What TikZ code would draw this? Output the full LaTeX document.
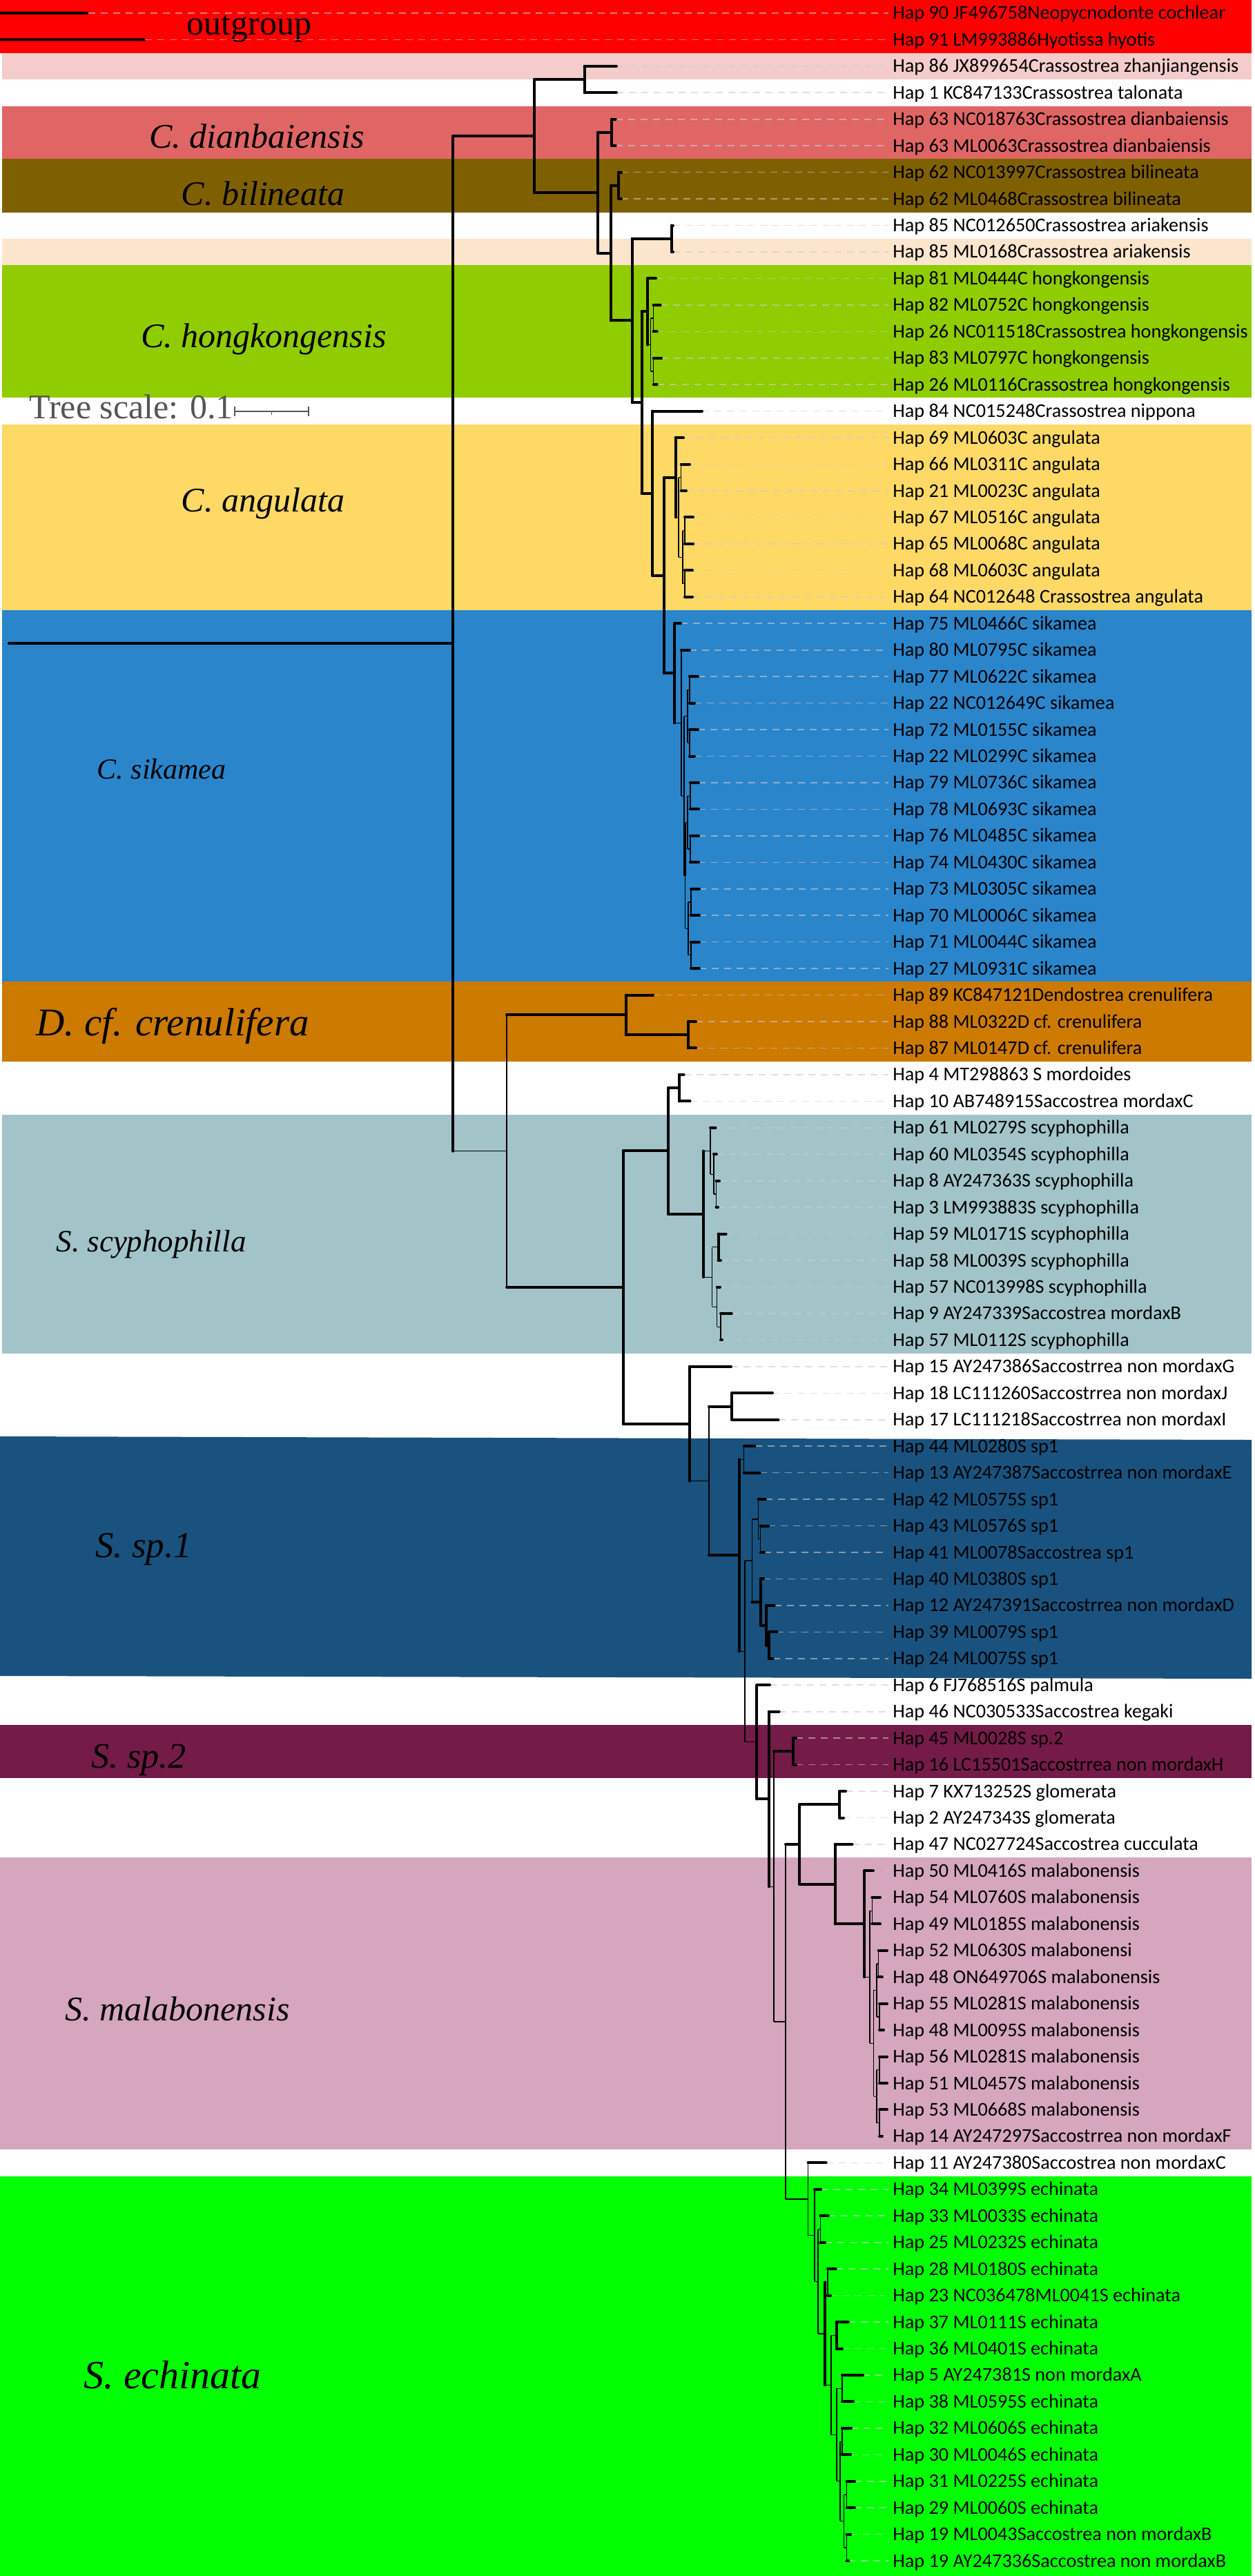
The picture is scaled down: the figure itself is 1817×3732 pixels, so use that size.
\documentclass[tikz,border=0pt]{standalone}
\usepackage{fontspec}
\setmainfont{Liberation Serif}
\newfontfamily\leaffont{Carlito}
\usetikzlibrary{calc}
\definecolor{cOut}{HTML}{FF0000}
\definecolor{cZh}{HTML}{F4CCCC}
\definecolor{cDi}{HTML}{E06666}
\definecolor{cBi}{HTML}{7F6000}
\definecolor{cAr}{HTML}{FCE5CD}
\definecolor{cHk}{HTML}{8FCC00}
\definecolor{cAn}{HTML}{FFD966}
\definecolor{cSi}{HTML}{2A85CB}
\definecolor{cCr}{HTML}{CC7A00}
\definecolor{cSc}{HTML}{A2C4C9}
\definecolor{cSa}{HTML}{19527E}
\definecolor{cSb}{HTML}{741B47}
\definecolor{cMa}{HTML}{D5A6BD}
\definecolor{cEc}{HTML}{00FF00}
\definecolor{cScale}{HTML}{555555}
\tikzset{
  thk/.style={line width=2pt, line cap=round},
  thn/.style={line width=0.6pt},
  thm/.style={line width=1pt},
  lead/.style={draw=gray!40, opacity=0.6, line width=0.8pt, dash pattern=on 5pt off 4pt},
  leaflbl/.style={anchor=base west, inner sep=0pt, font=\leaffont\fontsize{14.1}{16}\selectfont},
  cladelbl/.style={anchor=base, inner sep=0pt, font=\fontsize{25}{30}\selectfont\itshape},
}
\newcommand\leaf[3]{%
  \coordinate (L#1) at (#2,{18.9+38.45*#1});
  \coordinate (E#1) at (1287,{18.9+38.45*#1});
  \draw[lead] (L#1) -- (E#1);
  \node[leaflbl] (T#1) at (1293,{27.9+38.45*#1}) {#3};
}
\newcommand\inode[4]{\path let \p1=($(#3)!0.5!(#4)$), \p2=(#2,0) in coordinate (#1) at (\x2,\y1);}
\newcommand\br[4]{\draw[#1] (#3) -- (#3 |- #4); \draw[#2] (#3 |- #4) -- (#4);}
\begin{document}
\begin{tikzpicture}[x=0.5pt,y=-0.5pt]
\path[use as bounding box, fill=white] (0,0) rectangle (1817,3732);
% bands
\fill[cOut] (0,0) rectangle (1813,76.6);
\fill[cZh] (3,76.6) rectangle (1813,115.0);
\fill[cDi] (3,153.5) rectangle (1813,230.4);
\fill[cBi] (3,230.4) rectangle (1813,308);
\fill[cAr] (3,346) rectangle (1813,384.2);
\fill[cHk] (3,384.2) rectangle (1813,576.4);
\fill[cAn] (3,615) rectangle (1813,884);
\fill[cSi] (3,884) rectangle (1813,1422.3);
\fill[cCr] (3,1422.3) rectangle (1813,1537.7);
\fill[cSc] (3,1614.6) rectangle (1813,1960.6);
\fill[cSa] (0,2081) -- (1813,2086) -- (1813,2432) -- (0,2428) -- cycle;
\fill[cSb] (0,2499) rectangle (1813,2575.8);
\fill[cMa] (0,2691.2) rectangle (1813,3114.1);
\fill[cEc] (0,3152.6) rectangle (1813,3732);
% clade labels
\node[anchor=base, inner sep=0pt, font=\fontsize{25}{30}\selectfont] (Gout) at (361,50) {outgroup};
\node[cladelbl] (Gdi) at (372,214) {C. dianbaiensis};
\node[cladelbl] (Gbi) at (381,297) {C. bilineata};
\node[cladelbl] (Ghk) at (382,503) {C. hongkongensis};
\node[cladelbl] (Gan) at (381,741) {C. angulata};
\node[cladelbl, font=\fontsize{21}{26}\selectfont\itshape] (Gsi) at (234,1128) {C. sikamea};
\node[cladelbl, font=\fontsize{28.5}{34}\selectfont\itshape] (Gcr) at (250,1500) {D. cf. crenulifera};
\node[cladelbl, font=\fontsize{22.5}{27}\selectfont\itshape] (Gsc) at (219,1813) {S. scyphophilla};
\node[cladelbl, font=\fontsize{26.5}{32}\selectfont\itshape] (Gsa) at (208,2256) {S. sp.1};
\node[cladelbl, font=\fontsize{26}{31}\selectfont\itshape] (Gsb) at (201,2561) {S. sp.2};
\node[cladelbl] (Gma) at (257,2927) {S. malabonensis};
\node[cladelbl, font=\fontsize{29}{35}\selectfont\itshape] (Gec) at (250,3460) {S. echinata};
% tree scale
\node[anchor=base west, inner sep=0pt, text=cScale, font=\fontsize{25}{30}\selectfont] (Gts) at (42,606) {Tree scale: 0.1};
\coordinate (sb1) at (340,596); \coordinate (sb2) at (447,596); \coordinate (sbm) at (393.5,596);
\draw[cScale, line width=1.2pt] (sb1) -- (sb2);
\draw[cScale, line width=1.2pt] ($(sb1)+(0,-7)$) -- ($(sb1)+(0,7)$);
\draw[cScale, line width=1.2pt] ($(sb2)+(0,-7)$) -- ($(sb2)+(0,7)$);
\draw[cScale, line width=0.8pt] (sbm) -- ($(sbm)+(0,5)$);
% leaves
\leaf{0}{128}{Hap 90 JF496758Neopycnodonte cochlear}
\leaf{1}{210}{Hap 91 LM993886Hyotissa hyotis}
\leaf{2}{893}{Hap 86 JX899654Crassostrea zhanjiangensis}
\leaf{3}{893}{Hap 1 KC847133Crassostrea talonata}
\leaf{4}{891.7}{Hap 63 NC018763Crassostrea dianbaiensis}
\leaf{5}{891.7}{Hap 63 ML0063Crassostrea dianbaiensis}
\leaf{6}{900}{Hap 62 NC013997Crassostrea bilineata}
\leaf{7}{900}{Hap 62 ML0468Crassostrea bilineata}
\leaf{8}{975}{Hap 85 NC012650Crassostrea ariakensis}
\leaf{9}{975}{Hap 85 ML0168Crassostrea ariakensis}
\leaf{10}{950}{Hap 81 ML0444C hongkongensis}
\leaf{11}{956.7}{Hap 82 ML0752C hongkongensis}
\leaf{12}{951.7}{Hap 26 NC011518Crassostrea hongkongensis}
\leaf{13}{958}{Hap 83 ML0797C hongkongensis}
\leaf{14}{951.7}{Hap 26 ML0116Crassostrea hongkongensis}
\leaf{15}{1017}{Hap 84 NC015248Crassostrea nippona}
\leaf{16}{990}{Hap 69 ML0603C angulata}
\leaf{17}{999}{Hap 66 ML0311C angulata}
\leaf{18}{994}{Hap 21 ML0023C angulata}
\leaf{19}{1004}{Hap 67 ML0516C angulata}
\leaf{20}{1004}{Hap 65 ML0068C angulata}
\leaf{21}{1003}{Hap 68 ML0603C angulata}
\leaf{22}{1003}{Hap 64 NC012648 Crassostrea angulata}
\leaf{23}{986}{Hap 75 ML0466C sikamea}
\leaf{24}{999}{Hap 80 ML0795C sikamea}
\leaf{25}{1011}{Hap 77 ML0622C sikamea}
\leaf{26}{1006}{Hap 22 NC012649C sikamea}
\leaf{27}{1011}{Hap 72 ML0155C sikamea}
\leaf{28}{1006}{Hap 22 ML0299C sikamea}
\leaf{29}{1012}{Hap 79 ML0736C sikamea}
\leaf{30}{1012}{Hap 78 ML0693C sikamea}
\leaf{31}{1012}{Hap 76 ML0485C sikamea}
\leaf{32}{1012}{Hap 74 ML0430C sikamea}
\leaf{33}{1013}{Hap 73 ML0305C sikamea}
\leaf{34}{1013}{Hap 70 ML0006C sikamea}
\leaf{35}{1013}{Hap 71 ML0044C sikamea}
\leaf{36}{1013}{Hap 27 ML0931C sikamea}
\leaf{37}{946}{Hap 89 KC847121Dendostrea crenulifera}
\leaf{38}{1008}{Hap 88 ML0322D cf. crenulifera}
\leaf{39}{1008}{Hap 87 ML0147D cf. crenulifera}
\leaf{40}{990.6}{Hap 4 MT298863 S mordoides}
\leaf{41}{999.5}{Hap 10 AB748915Saccostrea mordaxC}
\leaf{42}{1036.6}{Hap 61 ML0279S scyphophilla}
\leaf{43}{1038}{Hap 60 ML0354S scyphophilla}
\leaf{44}{1042}{Hap 8 AY247363S scyphophilla}
\leaf{45}{1040}{Hap 3 LM993883S scyphophilla}
\leaf{46}{1051.7}{Hap 59 ML0171S scyphophilla}
\leaf{47}{1044}{Hap 58 ML0039S scyphophilla}
\leaf{48}{1043}{Hap 57 NC013998S scyphophilla}
\leaf{49}{1059.8}{Hap 9 AY247339Saccostrea mordaxB}
\leaf{50}{1046}{Hap 57 ML0112S scyphophilla}
\leaf{51}{1059}{Hap 15 AY247386Saccostrrea non mordaxG}
\leaf{52}{1119}{Hap 18 LC111260Saccostrrea non mordaxJ}
\leaf{53}{1127.5}{Hap 17 LC111218Saccostrrea non mordaxI}
\leaf{54}{1093.5}{Hap 44 ML0280S sp1}
\leaf{55}{1100.6}{Hap 13 AY247387Saccostrrea non mordaxE}
\leaf{56}{1109}{Hap 42 ML0575S sp1}
\leaf{57}{1113.4}{Hap 43 ML0576S sp1}
\leaf{58}{1107}{Hap 41 ML0078Saccostrea sp1}
\leaf{59}{1106}{Hap 40 ML0380S sp1}
\leaf{60}{1121.7}{Hap 12 AY247391Saccostrrea non mordaxD}
\leaf{61}{1125.4}{Hap 39 ML0079S sp1}
\leaf{62}{1119.6}{Hap 24 ML0075S sp1}
\leaf{63}{1115}{Hap 6 FJ768516S palmula}
\leaf{64}{1128.7}{Hap 46 NC030533Saccostrea kegaki}
\leaf{65}{1153}{Hap 45 ML0028S sp.2}
\leaf{66}{1153}{Hap 16 LC15501Saccostrrea non mordaxH}
\leaf{67}{1225}{Hap 7 KX713252S glomerata}
\leaf{68}{1222}{Hap 2 AY247343S glomerata}
\leaf{69}{1234.5}{Hap 47 NC027724Saccostrea cucculata}
\leaf{70}{1265}{Hap 50 ML0416S malabonensis}
\leaf{71}{1275}{Hap 54 ML0760S malabonensis}
\leaf{72}{1275}{Hap 49 ML0185S malabonensis}
\leaf{73}{1285}{Hap 52 ML0630S malabonensi}
\leaf{74}{1278}{Hap 48 ON649706S malabonensis}
\leaf{75}{1285}{Hap 55 ML0281S malabonensis}
\leaf{76}{1280}{Hap 48 ML0095S malabonensis}
\leaf{77}{1285}{Hap 56 ML0281S malabonensis}
\leaf{78}{1285}{Hap 51 ML0457S malabonensis}
\leaf{79}{1285}{Hap 53 ML0668S malabonensis}
\leaf{80}{1278}{Hap 14 AY247297Saccostrrea non mordaxF}
\leaf{81}{1196.7}{Hap 11 AY247380Saccostrea non mordaxC}
\leaf{82}{1189}{Hap 34 ML0399S echinata}
\leaf{83}{1200}{Hap 33 ML0033S echinata}
\leaf{84}{1195}{Hap 25 ML0232S echinata}
\leaf{85}{1210.7}{Hap 28 ML0180S echinata}
\leaf{86}{1203}{Hap 23 NC036478ML0041S echinata}
\leaf{87}{1229}{Hap 37 ML0111S echinata}
\leaf{88}{1220}{Hap 36 ML0401S echinata}
\leaf{89}{1250}{Hap 5 AY247381S non mordaxA}
\leaf{90}{1236}{Hap 38 ML0595S echinata}
\leaf{91}{1233}{Hap 32 ML0606S echinata}
\leaf{92}{1232}{Hap 30 ML0046S echinata}
\leaf{93}{1238}{Hap 31 ML0225S echinata}
\leaf{94}{1238}{Hap 29 ML0060S echinata}
\leaf{95}{1232}{Hap 19 ML0043Saccostrea non mordaxB}
\leaf{96}{1229}{Hap 19 AY247336Saccostrea non mordaxB}
% outgroup branches
\coordinate (og0) at (0,18.9); \coordinate (og1) at (0,57.35);
\draw[line width=2pt] (og0) -- (L0);
\draw[line width=2pt] (og1) -- (L1);
% Crassostrea
\inode{c1}{846.7}{L2}{L3}\br{thk}{thk}{c1}{L2}\br{thk}{thk}{c1}{L3}
\inode{c2}{886}{L4}{L5}\br{thk}{thk}{c2}{L4}\br{thk}{thk}{c2}{L5}
\inode{c3}{896}{L6}{L7}\br{thk}{thk}{c3}{L6}\br{thk}{thk}{c3}{L7}
\inode{c4}{973}{L8}{L9}\br{thk}{thk}{c4}{L8}\br{thk}{thk}{c4}{L9}
\inode{ch1}{946.7}{L11}{L12}\br{thn}{thk}{ch1}{L11}\br{thn}{thk}{ch1}{L12}
\inode{ch2}{946.7}{L13}{L14}\br{thn}{thk}{ch2}{L13}\br{thn}{thk}{ch2}{L14}
\inode{ch3}{942.7}{ch1}{ch2}\br{thn}{thn}{ch3}{ch1}\br{thn}{thn}{ch3}{ch2}
\inode{ch4}{938}{L10}{ch3}\br{thk}{thk}{ch4}{L10}\br{thk}{thn}{ch4}{ch3}
\inode{ca1}{986.7}{L17}{L18}\br{thn}{thk}{ca1}{L17}\br{thn}{thk}{ca1}{L18}
\inode{ca2}{992}{L19}{L20}\br{thn}{thk}{ca2}{L19}\br{thn}{thk}{ca2}{L20}
\inode{ca3}{992}{L21}{L22}\br{thn}{thk}{ca3}{L21}\br{thn}{thk}{ca3}{L22}
\inode{ca4}{989}{ca2}{ca3}\br{thn}{thn}{ca4}{ca2}\br{thn}{thn}{ca4}{ca3}
\inode{ca5}{983}{ca1}{ca4}\br{thn}{thn}{ca5}{ca1}\br{thn}{thn}{ca5}{ca4}
\inode{ca6}{978.7}{L16}{ca5}\br{thk}{thk}{ca6}{L16}\br{thk}{thn}{ca6}{ca5}
\inode{cs1}{999}{L25}{L26}\br{thm}{thk}{cs1}{L25}\br{thm}{thk}{cs1}{L26}
\inode{cs2}{999}{L27}{L28}\br{thm}{thk}{cs2}{L27}\br{thm}{thk}{cs2}{L28}
\inode{cs3}{1000}{L29}{L30}\br{thm}{thk}{cs3}{L29}\br{thm}{thk}{cs3}{L30}
\inode{cs4}{1000}{L31}{L32}\br{thm}{thk}{cs4}{L31}\br{thm}{thk}{cs4}{L32}
\inode{cs5}{1001}{L33}{L34}\br{thm}{thk}{cs5}{L33}\br{thm}{thk}{cs5}{L34}
\inode{cs6}{1001}{L35}{L36}\br{thm}{thk}{cs6}{L35}\br{thm}{thk}{cs6}{L36}
\inode{csQa}{996}{cs1}{cs2}\br{thn}{thn}{csQa}{cs1}\br{thn}{thn}{csQa}{cs2}
\inode{csQb}{996}{cs3}{cs4}\br{thn}{thn}{csQb}{cs3}\br{thn}{thn}{csQb}{cs4}
\inode{csQc}{997}{cs5}{cs6}\br{thn}{thn}{csQc}{cs5}\br{thn}{thn}{csQc}{cs6}
\inode{csR}{992.5}{csQb}{csQc}\br{thm}{thn}{csR}{csQb}\br{thn}{thn}{csR}{csQc}
\inode{csS}{991}{csQa}{csR}\br{thn}{thn}{csS}{csQa}\br{thn}{thn}{csS}{csR}
\inode{csT}{987}{L24}{csS}\br{thn}{thk}{csT}{L24}\br{thn}{thn}{csT}{csS}
\inode{csU}{977}{L23}{csT}\br{thk}{thk}{csU}{L23}\br{thk}{thn}{csU}{csT}
\inode{cas}{962}{ca6}{csU}\br{thk}{thk}{cas}{ca6}\br{thk}{thk}{cas}{csU}
\inode{nF}{945}{L15}{cas}\br{thk}{thk}{nF}{L15}\br{thk}{thk}{nF}{cas}
\inode{nA}{929.5}{ch4}{nF}\br{thk}{thk}{nA}{ch4}\br{thk}{thk}{nA}{nF}
\inode{nB}{915.7}{c4}{nA}\br{thk}{thk}{nB}{c4}\br{thk}{thk}{nB}{nA}
\inode{nC}{885}{c3}{nB}\br{thk}{thk}{nC}{c3}\br{thk}{thk}{nC}{nB}
\inode{nD}{866}{c2}{nC}\br{thk}{thk}{nD}{c2}\br{thk}{thk}{nD}{nC}
\inode{nE}{774}{c1}{nD}\br{thk}{thk}{nE}{c1}\br{thk}{thk}{nE}{nD}
% Dendostrea + Saccostrea
\inode{d1}{997}{L38}{L39}\br{thk}{thk}{d1}{L38}\br{thk}{thk}{d1}{L39}
\inode{d2}{907}{L37}{d1}\br{thk}{thk}{d2}{L37}\br{thk}{thk}{d2}{d1}
\inode{s1}{984}{L40}{L41}\br{thk}{thk}{s1}{L40}\br{thk}{thk}{s1}{L41}
\inode{sc1}{1037.5}{L44}{L45}\br{thn}{thk}{sc1}{L44}\br{thn}{thk}{sc1}{L45}
\inode{sc2}{1034}{L43}{sc1}\br{thn}{thk}{sc2}{L43}\br{thn}{thn}{sc2}{sc1}
\inode{sc3}{1029}{L42}{sc2}\br{thn}{thk}{sc3}{L42}\br{thn}{thn}{sc3}{sc2}
\inode{sc4}{1040.6}{L46}{L47}\br{thk}{thk}{sc4}{L46}\br{thk}{thk}{sc4}{L47}
\inode{sc5}{1044}{L49}{L50}\br{thn}{thk}{sc5}{L49}\br{thn}{thk}{sc5}{L50}
\inode{sc6}{1038.8}{L48}{sc5}\br{thn}{thk}{sc6}{L48}\br{thn}{thn}{sc6}{sc5}
\inode{sc7}{1031.7}{sc4}{sc6}\br{thn}{thn}{sc7}{sc4}\br{thn}{thn}{sc7}{sc6}
\inode{sc8}{1018.7}{sc3}{sc7}\br{thk}{thn}{sc8}{sc3}\br{thk}{thn}{sc8}{sc7}
\inode{s2}{968}{s1}{sc8}\br{thk}{thk}{s2}{s1}\br{thk}{thk}{s2}{sc8}
\inode{m1}{1060}{L52}{L53}\br{thk}{thk}{m1}{L52}\br{thk}{thk}{m1}{L53}
\inode{p1}{1077.8}{L54}{L55}\br{thn}{thk}{p1}{L54}\br{thn}{thk}{p1}{L55}
\inode{p2}{1101.8}{L57}{L58}\br{thn}{thk}{p2}{L57}\br{thn}{thk}{p2}{L58}
\inode{p3}{1098.5}{L56}{p2}\br{thn}{thk}{p3}{L56}\br{thn}{thn}{p3}{p2}
\inode{p4}{1114}{L61}{L62}\br{thk}{thk}{p4}{L61}\br{thk}{thk}{p4}{L62}
\inode{p5}{1110}{L60}{p4}\br{thk}{thk}{p5}{L60}\br{thk}{thk}{p5}{p4}
\inode{p6}{1101.8}{L59}{p5}\br{thk}{thk}{p6}{L59}\br{thk}{thk}{p6}{p5}
\inode{p7}{1089.4}{p3}{p6}\br{thn}{thn}{p7}{p3}\br{thn}{thk}{p7}{p6}
\inode{q1}{1149}{L65}{L66}\br{thk}{thk}{q1}{L65}\br{thk}{thk}{q1}{L66}
\inode{g1}{1216}{L67}{L68}\br{thk}{thk}{g1}{L67}\br{thk}{thk}{g1}{L68}
\inode{mb1}{1263.3}{L71}{L72}\br{thn}{thk}{mb1}{L71}\br{thn}{thk}{mb1}{L72}
\inode{mb2}{1272.7}{L73}{L74}\br{thn}{thk}{mb2}{L73}\br{thn}{thk}{mb2}{L74}
\inode{mb3}{1274}{L75}{L76}\br{thn}{thk}{mb3}{L75}\br{thn}{thk}{mb3}{L76}
\inode{mb4}{1270}{mb2}{mb3}\br{thn}{thn}{mb4}{mb2}\br{thn}{thn}{mb4}{mb3}
\inode{mb5}{1274}{L77}{L78}\br{thn}{thk}{mb5}{L77}\br{thn}{thk}{mb5}{L78}
\inode{mb6}{1274}{L79}{L80}\br{thn}{thk}{mb6}{L79}\br{thn}{thk}{mb6}{L80}
\inode{mb7}{1270}{mb5}{mb6}\br{thn}{thn}{mb7}{mb5}\br{thn}{thn}{mb7}{mb6}
\inode{mb8}{1265.7}{mb4}{mb7}\br{thn}{thn}{mb8}{mb4}\br{thn}{thn}{mb8}{mb7}
\inode{mb9}{1260}{mb1}{mb8}\br{thn}{thn}{mb9}{mb1}\br{thn}{thn}{mb9}{mb8}
\inode{mb10}{1252}{L70}{mb9}\br{thk}{thk}{mb10}{L70}\br{thk}{thn}{mb10}{mb9}
\inode{g2}{1209.6}{L69}{mb10}\br{thk}{thk}{g2}{L69}\br{thk}{thk}{g2}{mb10}
\inode{g3}{1158}{g1}{g2}\br{thk}{thk}{g3}{g1}\br{thk}{thk}{g3}{g2}
\inode{e1}{1188.3}{L83}{L84}\br{thn}{thk}{e1}{L83}\br{thn}{thk}{e1}{L84}
\inode{e2}{1199}{L85}{L86}\br{thn}{thk}{e2}{L85}\br{thn}{thk}{e2}{L86}
\inode{e3}{1212}{L87}{L88}\br{thk}{thk}{e3}{L87}\br{thk}{thk}{e3}{L88}
\inode{e4}{1220}{L89}{L90}\br{thn}{thk}{e4}{L89}\br{thn}{thk}{e4}{L90}
\inode{e5}{1220}{L91}{L92}\br{thn}{thk}{e5}{L91}\br{thn}{thk}{e5}{L92}
\inode{e6}{1226.7}{L93}{L94}\br{thn}{thk}{e6}{L93}\br{thn}{thk}{e6}{L94}
\inode{e7}{1226.7}{L95}{L96}\br{thn}{thk}{e7}{L95}\br{thn}{thk}{e7}{L96}
\inode{e8}{1222.7}{e6}{e7}\br{thn}{thn}{e8}{e6}\br{thn}{thn}{e8}{e7}
\inode{e9}{1217}{e5}{e8}\br{thn}{thn}{e9}{e5}\br{thn}{thn}{e9}{e8}
\inode{e10}{1212}{e4}{e9}\br{thn}{thn}{e10}{e4}\br{thn}{thn}{e10}{e9}
\inode{e11}{1204}{e3}{e10}\br{thn}{thn}{e11}{e3}\br{thn}{thn}{e11}{e10}
\inode{e12}{1195}{e2}{e11}\br{thk}{thn}{e12}{e2}\br{thk}{thn}{e12}{e11}
\inode{e13}{1185}{e1}{e12}\br{thn}{thn}{e13}{e1}\br{thn}{thn}{e13}{e12}
\inode{e14}{1180}{L82}{e13}\br{thn}{thk}{e14}{L82}\br{thn}{thn}{e14}{e13}
\inode{e15}{1170.7}{L81}{e14}\br{thn}{thk}{e15}{L81}\br{thn}{thn}{e15}{e14}
\inode{g4}{1138}{g3}{e15}\br{thn}{thk}{g4}{g3}\br{thn}{thn}{g4}{e15}
\inode{q2}{1121}{q1}{g4}\br{thn}{thk}{q2}{q1}\br{thn}{thn}{q2}{g4}
\inode{q3}{1114}{L64}{q2}\br{thk}{thk}{q3}{L64}\br{thk}{thn}{q3}{q2}
\inode{q4}{1096.4}{L63}{q3}\br{thk}{thk}{q4}{L63}\br{thk}{thk}{q4}{q3}
\inode{p8}{1079}{p7}{q4}\br{thn}{thn}{p8}{p7}\br{thn}{thn}{p8}{q4}
\inode{p9}{1070.7}{p1}{p8}\br{thk}{thn}{p9}{p1}\br{thk}{thn}{p9}{p8}
\inode{m2}{1027}{m1}{p9}\br{thn}{thk}{m2}{m1}\br{thn}{thk}{m2}{p9}
\inode{m3}{999}{L51}{m2}\br{thk}{thk}{m3}{L51}\br{thk}{thn}{m3}{m2}
\inode{s3}{902.7}{s2}{m3}\br{thk}{thk}{s3}{s2}\br{thk}{thk}{s3}{m3}
\inode{ds}{734}{d2}{s3}\br{thn}{thk}{ds}{d2}\br{thn}{thk}{ds}{s3}
\inode{root}{656}{nE}{ds}\br{thk}{thk}{root}{nE}\br{thk}{thn}{root}{ds}
\coordinate (stemx) at (13,0);
\coordinate (stem) at (root -| stemx);
\draw[thk] (stem) -- (root);
\end{tikzpicture}
\end{document}
